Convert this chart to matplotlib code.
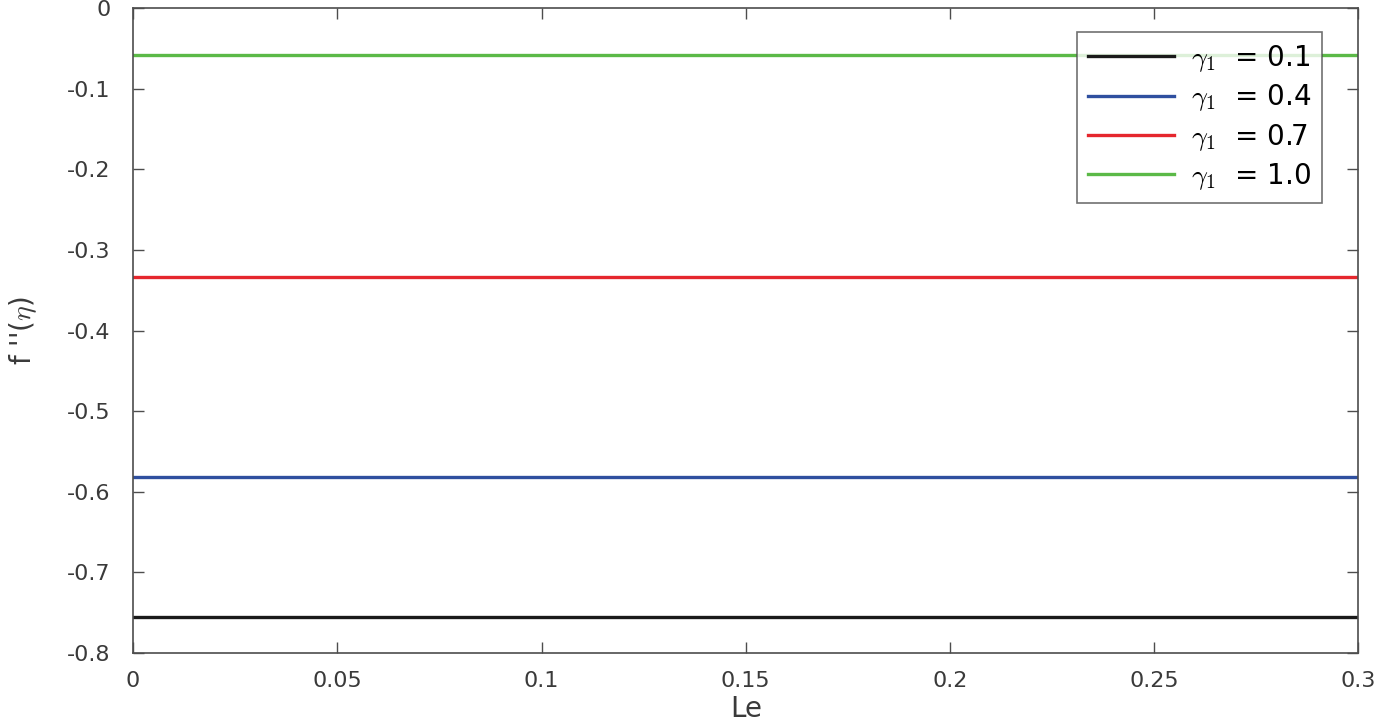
import numpy as np
import matplotlib.pyplot as plt

plt.rcParams.update({
    "font.family": ["DejaVu Sans"],
    "mathtext.fontset": "cm",
    "font.size": 16,
    "axes.linewidth": 1.2,
    "axes.edgecolor": "#4d4d4d",
    "xtick.color": "#4d4d4d",
    "ytick.color": "#4d4d4d",
    "xtick.labelcolor": "#3a3a3a",
    "ytick.labelcolor": "#3a3a3a",
})

# data
Le = [0.0, 0.3]
gamma1 = ["0.1", "0.4", "0.7", "1.0"]
fpp = [-0.755, -0.582, -0.334, -0.058]
colors = ["#1a1a1a", "#2f4f9f", "#e5262d", "#5bb947"]

fig = plt.figure(figsize=(13.8, 7.28), dpi=100)
ax = fig.add_axes([0.0964, 0.103, 0.888, 0.886])

for g, v, c in zip(gamma1, fpp, colors):
    ax.plot(Le, [v, v], color=c, linewidth=2.4,
            label=r"$\gamma_{\mathsf{1}}$  = " + g)

ax.set_xlim(0, 0.3)
ax.set_ylim(-0.8, 0)
ax.set_xticks([0, 0.05, 0.1, 0.15, 0.2, 0.25, 0.3])
ax.set_xticklabels(["0", "0.05", "0.1", "0.15", "0.2", "0.25", "0.3"])
ax.set_yticks(np.round(np.arange(-0.8, 0.01, 0.1), 1))
ax.set_yticklabels(["-0.8", "-0.7", "-0.6", "-0.5", "-0.4", "-0.3", "-0.2", "-0.1", "0"])
ax.tick_params(direction="in", top=True, right=True, length=8, width=1, pad=13)
ax.tick_params(axis="y", pad=16)

ax.set_xlabel("Le", fontsize=20, color="#3a3a3a", labelpad=3)
ax.set_ylabel(r"f ''($\eta$)", fontsize=20, color="#3a3a3a", labelpad=20)

leg = ax.legend(loc="upper right", bbox_to_anchor=(0.9706, 0.963), fontsize=20,
                borderaxespad=0, frameon=True, fancybox=False, edgecolor="#4d4d4d",
                handlelength=3.1, handletextpad=0.6, labelspacing=0.3,
                borderpad=0.4)
leg.get_frame().set_linewidth(1.2)

fig.savefig("out.png", dpi=100)
